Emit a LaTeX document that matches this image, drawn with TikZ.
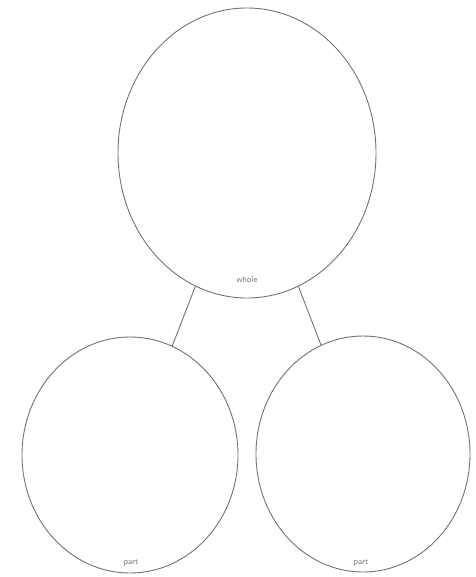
\documentclass[tikz,border=0pt]{standalone}
\usetikzlibrary{shapes.geometric}
\begin{document}
\begin{tikzpicture}[x=1pt,y=-1pt,
  circ/.style={ellipse,draw=black!55,line width=0.9pt,inner sep=0pt},
  lbl/.style={font=\fontsize{8.5}{10}\selectfont\sffamily,text=black!55,inner sep=0pt},
  link/.style={draw=black!55,line width=0.9pt}]
\useasboundingbox (0,0) rectangle (475,577);
\node[circ,minimum width=258pt,minimum height=290pt] (whole) at (247,153) {};
\node[circ,minimum width=216pt,minimum height=236pt] (left) at (130,455) {};
\node[circ,minimum width=214pt,minimum height=236pt] (right) at (363,454) {};
\node[lbl] (wl) at (247,280) {whole};
\node[lbl] (pl) at (131,563) {part};
\node[lbl] (pr) at (361,563) {part};
\draw[link] (whole) -- (left);
\draw[link] (whole) -- (right);
\end{tikzpicture}
\end{document}
